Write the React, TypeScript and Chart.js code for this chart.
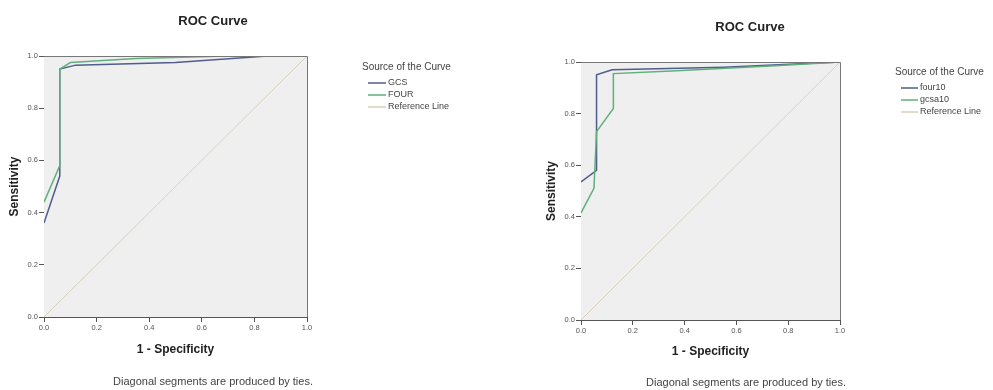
import React, { useEffect, useRef } from "react";
import { Chart, registerables } from "chart.js";

Chart.register(...registerables);

// Left chart
const leftTitle = "ROC Curve";
const gcsFpr = [0, 0.06, 0.06, 0.12, 0.5, 0.85, 1];
const gcsTpr = [0.36, 0.54, 0.95, 0.965, 0.975, 1, 1];
const fourFpr = [0, 0.06, 0.06, 0.1, 0.35, 0.7, 1];
const fourTpr = [0.44, 0.58, 0.95, 0.975, 0.99, 1, 1];
const leftLegend = ["GCS", "FOUR", "Reference Line"];

// Right chart
const rightTitle = "ROC Curve";
const four10Fpr = [0, 0.06, 0.06, 0.12, 0.55, 1];
const four10Tpr = [0.535, 0.58, 0.95, 0.97, 0.98, 1];
const gcsa10Fpr = [0, 0.05, 0.06, 0.125, 0.125, 0.35, 0.75, 1];
const gcsa10Tpr = [0.415, 0.51, 0.73, 0.82, 0.955, 0.965, 0.985, 1];
const rightLegend = ["four10", "gcsa10", "Reference Line"];

// Shared
const refX = [0, 1];
const refY = [0, 1];
const tickValues = [0, 0.2, 0.4, 0.6, 0.8, 1.0];
const xTitle = "1 - Specificity";
const yTitle = "Sensitivity";
const legendTitle = "Source of the Curve";
const footnote = "Diagonal segments are produced by ties.";

const BLUE = "#4f5d8c";
const GREEN = "#5fb07c";
const REF = "#d8cfbc";
const FONT = "'Liberation Sans', Arial, sans-serif";

const pts = (xs: number[], ys: number[]) => xs.map((x, i) => ({ x, y: ys[i] }));

type Layout = {
  width: number;
  area: { left: number; right: number; top: number; bottom: number };
  titleY: number;
  titleX: number;
  xTitleY: number;
  yTitleX: number;
  footX: number;
  footY: number;
  legX: number;
  legTitleY: number;
  legRows: number[];
  legLineX0: number;
  legLineX1: number;
  legTextX: number;
};

function RocChart(props: {
  layout: Layout;
  title: string;
  names: string[];
  s1: { x: number; y: number }[];
  s2: { x: number; y: number }[];
  c1: string;
  c2: string;
}) {
  const ref = useRef<HTMLCanvasElement | null>(null);
  useEffect(() => {
    const L = props.layout;
    const H = 390;
    const textPlugin = {
      id: "texts",
      beforeDatasetsDraw(chart: any) {
        const { ctx, chartArea } = chart;
        ctx.save();
        ctx.fillStyle = "#efefef";
        ctx.fillRect(chartArea.left, chartArea.top, chartArea.right - chartArea.left, chartArea.bottom - chartArea.top);
        ctx.restore();
      },
      afterDraw(chart: any) {
        const { ctx, chartArea } = chart;
        ctx.save();
        ctx.strokeStyle = "#777";
        ctx.lineWidth = 1;
        ctx.beginPath();
        ctx.moveTo(chartArea.left, chartArea.top + 0.5);
        ctx.lineTo(chartArea.right + 0.5, chartArea.top + 0.5);
        ctx.lineTo(chartArea.right + 0.5, chartArea.bottom);
        ctx.stroke();

        ctx.fillStyle = "#222";
        ctx.textAlign = "center";
        ctx.textBaseline = "middle";
        ctx.font = `bold 13px ${FONT}`;
        ctx.fillText(props.title, L.titleX, L.titleY);
        ctx.font = `bold 12px ${FONT}`;
        ctx.fillText(xTitle, (chartArea.left + chartArea.right) / 2, L.xTitleY);
        ctx.save();
        ctx.translate(L.yTitleX, (chartArea.top + chartArea.bottom) / 2);
        ctx.rotate(-Math.PI / 2);
        ctx.fillText(yTitle, 0, 0);
        ctx.restore();

        ctx.fillStyle = "#444";
        ctx.font = `11px ${FONT}`;
        ctx.fillText(footnote, L.footX, L.footY);

        ctx.textAlign = "left";
        ctx.font = `10px ${FONT}`;
        ctx.fillText(legendTitle, L.legX, L.legTitleY);
        const colors = [props.c1, props.c2, REF];
        props.names.forEach((n, i) => {
          const y = L.legRows[i];
          ctx.strokeStyle = colors[i];
          ctx.lineWidth = 1.5;
          ctx.beginPath();
          ctx.moveTo(L.legLineX0, y);
          ctx.lineTo(L.legLineX1, y);
          ctx.stroke();
          ctx.fillStyle = "#444";
          ctx.font = `9px ${FONT}`;
          ctx.fillText(n, L.legTextX, y);
        });
        ctx.restore();
      },
    };

    const tickCfg = {
      color: "#555",
      font: { size: 7.5, family: FONT },
      padding: 1,
      autoSkip: false,
      callback: (v: any) => Number(v).toFixed(1),
    };
    const gridCfg = {
      drawOnChartArea: false,
      drawTicks: true,
      tickLength: 5,
      color: "#555",
    };

    const chart = new Chart(ref.current as HTMLCanvasElement, {
      type: "scatter",
      data: {
        datasets: [
          { data: pts(refX, refY), borderColor: REF, borderWidth: 1, showLine: true, pointRadius: 0 },
          { data: props.s2, borderColor: props.c2, borderWidth: 1.5, showLine: true, pointRadius: 0 },
          { data: props.s1, borderColor: props.c1, borderWidth: 1.5, showLine: true, pointRadius: 0 },
        ],
      },
      options: {
        animation: false,
        responsive: false,
        maintainAspectRatio: false,
        layout: {
          padding: {
            left: 0,
            top: L.area.top,
            right: L.width - L.area.right,
            bottom: 0,
          },
        },
        plugins: { legend: { display: false }, tooltip: { enabled: false }, title: { display: false } },
        scales: {
          x: {
            type: "linear",
            min: 0,
            max: 1,
            afterFit: (s: any) => {
              s.height = H - L.area.bottom;
            },
            afterBuildTicks: (s: any) => {
              s.ticks = tickValues.map((v) => ({ value: v }));
            },
            ticks: tickCfg,
            grid: gridCfg,
            border: { display: true, color: "#555", width: 1 },
          },
          y: {
            type: "linear",
            min: 0,
            max: 1,
            afterFit: (s: any) => {
              s.width = L.area.left;
            },
            afterBuildTicks: (s: any) => {
              s.ticks = tickValues.map((v) => ({ value: v }));
            },
            ticks: tickCfg,
            grid: gridCfg,
            border: { display: true, color: "#555", width: 1 },
          },
        },
      } as any,
      plugins: [textPlugin],
    });
    return () => chart.destroy();
  }, []);
  return (
    <canvas
      ref={ref}
      width={props.layout.width}
      height={390}
      style={{ width: props.layout.width, height: 390, display: "block" }}
    />
  );
}

const leftLayout: Layout = {
  width: 496,
  area: { left: 44, right: 307, top: 56, bottom: 317 },
  titleX: 213,
  titleY: 21,
  xTitleY: 350,
  yTitleX: 15,
  footX: 213,
  footY: 382,
  legX: 362,
  legTitleY: 67,
  legRows: [83, 95, 107],
  legLineX0: 368,
  legLineX1: 386,
  legTextX: 388,
};

const rightLayout: Layout = {
  width: 497,
  area: { left: 85, right: 344, top: 62, bottom: 320 },
  titleX: 254,
  titleY: 27,
  xTitleY: 352,
  yTitleX: 56,
  footX: 250,
  footY: 383,
  legX: 399,
  legTitleY: 72,
  legRows: [88, 100, 112],
  legLineX0: 405,
  legLineX1: 422,
  legTextX: 424,
};

export default function App() {
  return (
    <div style={{ position: "absolute", left: 0, top: 0, width: 993, height: 390, background: "#fff", display: "flex" }}>
      <RocChart
        layout={leftLayout}
        title={leftTitle}
        names={leftLegend}
        s1={pts(gcsFpr, gcsTpr)}
        s2={pts(fourFpr, fourTpr)}
        c1={BLUE}
        c2={GREEN}
      />
      <RocChart
        layout={rightLayout}
        title={rightTitle}
        names={rightLegend}
        s1={pts(four10Fpr, four10Tpr)}
        s2={pts(gcsa10Fpr, gcsa10Tpr)}
        c1={BLUE}
        c2={GREEN}
      />
    </div>
  );
}
